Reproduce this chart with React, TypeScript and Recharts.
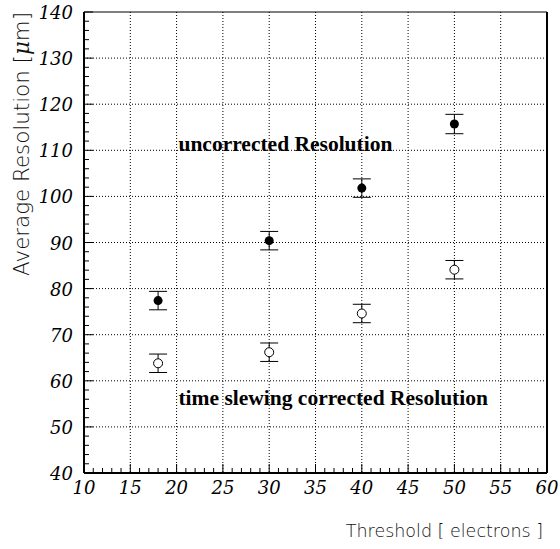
import React from "react";
import {
  ScatterChart,
  Scatter,
  XAxis,
  YAxis,
  CartesianGrid,
  ErrorBar,
  ReferenceLine,
  ReferenceDot,
  Label,
} from "recharts";

// thresholds in electrons
const thresholds = [18, 30, 40, 50];
const uncorrected = [77.4, 90.4, 101.8, 115.7];
const uncorrectedErr = [2.0, 2.0, 2.0, 2.1];
const corrected = [63.8, 66.2, 74.6, 84.1];
const correctedErr = [2.0, 2.0, 2.0, 2.0];

const xMajorTicks = [10, 15, 20, 25, 30, 35, 40, 45, 50, 55, 60];
const yMajorTicks = [40, 50, 60, 70, 80, 90, 100, 110, 120, 130, 140];
// minor tick marks: every 1 electron on x, every 2 um on y
const xAllTicks = Array.from({ length: 51 }, (_, i) => 10 + i);
const yAllTicks = Array.from({ length: 51 }, (_, i) => 40 + i * 2);

const uncorrData = thresholds.map((t, i) => ({ x: t, y: uncorrected[i], err: uncorrectedErr[i] }));
const corrData = thresholds.map((t, i) => ({ x: t, y: corrected[i], err: correctedErr[i] }));

const SANS = "'DejaVu Sans', sans-serif";
const TICK_SERIF = "DejaVu Serif";

const renderXTick = (props: any) => {
  const { x, y, payload } = props;
  const major = xMajorTicks.includes(payload.value);
  return (
    <g key={`xt-${payload.value}`}>
      <line x1={x} x2={x} y1={y} y2={y - (major ? 9 : 5)} stroke="#000" strokeWidth={1} />
      {major && (
        <text
          x={x}
          y={y + 21}
          textAnchor="middle"
          fontFamily={TICK_SERIF}
          fontStyle="italic"
          fontSize={18}
          fill="#000"
        >
          {String(payload.value)}
        </text>
      )}
    </g>
  );
};

const renderYTick = (props: any) => {
  const { x, y, payload } = props;
  const major = yMajorTicks.includes(payload.value);
  return (
    <g key={`yt-${payload.value}`}>
      <line x1={x} x2={x + (major ? 9 : 5)} y1={y} y2={y} stroke="#000" strokeWidth={1} />
      {major && (
        <text
          x={x - 11}
          y={y + 7}
          textAnchor="end"
          fontFamily={TICK_SERIF}
          fontStyle="italic"
          fontSize={18}
          fill="#000"
        >
          {String(payload.value)}
        </text>
      )}
    </g>
  );
};

const FilledDot = (props: any) => <circle cx={props.cx} cy={props.cy} r={4.5} fill="#000" />;
const OpenDot = (props: any) => (
  <circle cx={props.cx} cy={props.cy} r={4.5} fill="#fff" stroke="#000" strokeWidth={1} />
);

const Annot = (props: any) => {
  const { viewBox, text } = props;
  return (
    <text x={viewBox.x} y={viewBox.y} fontFamily="Liberation Serif" fontWeight="bold" fontSize={21.5} fill="#000">
      {text}
    </text>
  );
};

const XTitle = (props: any) => {
  const { viewBox } = props;
  return (
    <text
      x={viewBox.x + viewBox.width - 4}
      y={viewBox.y + 64}
      textAnchor="end"
      fontFamily={SANS}
      fontWeight={200}
      fontSize={17.5}
      fill="#111"
    >
      Threshold [ electrons ]
    </text>
  );
};

const YTitle = (props: any) => {
  const { viewBox } = props;
  const cx = viewBox.x + viewBox.width - 55.5;
  const cy = viewBox.y;
  return (
    <text
      x={cx}
      y={cy}
      transform={`rotate(-90 ${cx} ${cy})`}
      textAnchor="end"
      fontFamily={SANS}
      fontWeight={200}
      fontSize={21.4}
      fill="#111"
    >
      Average Resolution [<tspan fontStyle="italic" fontFamily="'DejaVu Serif', serif">μ</tspan>m]
    </text>
  );
};

export default function App() {
  return (
    <div style={{ position: "absolute", left: 0, top: 0, background: "#fff" }}>
      <ScatterChart width={560} height={549} margin={{ top: 12, right: 13, bottom: 16, left: 24 }}>
        <CartesianGrid
          horizontalValues={yMajorTicks.slice(1, -1)}
          verticalValues={xMajorTicks.slice(1, -1)}
          stroke="#000"
          strokeDasharray="1 2"
        />
        <XAxis
          type="number"
          dataKey="x"
          domain={[10, 60]}
          ticks={xAllTicks}
          interval={0}
          height={60}
          tickSize={0}
          tickMargin={0}
          tickLine={false}
          tick={renderXTick}
          axisLine={{ stroke: "#000", strokeWidth: 2 }}
        >
          <Label content={<XTitle />} />
        </XAxis>
        <YAxis
          type="number"
          dataKey="y"
          domain={[40, 140]}
          ticks={yAllTicks}
          interval={0}
          width={60}
          tickSize={0}
          tickMargin={0}
          tickLine={false}
          tick={renderYTick}
          axisLine={{ stroke: "#000", strokeWidth: 2 }}
        >
          <Label content={<YTitle />} />
        </YAxis>
        <ReferenceLine y={140} stroke="#000" strokeWidth={1} />
        <ReferenceLine x={60} stroke="#000" strokeWidth={2} />
        <Scatter data={uncorrData} shape={<FilledDot />} isAnimationActive={false}>
          <ErrorBar dataKey="err" direction="y" width={9} stroke="#000" strokeWidth={1} />
        </Scatter>
        <Scatter data={corrData} shape={<OpenDot />} isAnimationActive={false}>
          <ErrorBar dataKey="err" direction="y" width={9} stroke="#000" strokeWidth={1} />
        </Scatter>
        <ReferenceDot x={20.2} y={109.9} r={0} fill="none" stroke="none" label={<Annot text="uncorrected Resolution" />} />
        <ReferenceDot x={20.2} y={54.8} r={0} fill="none" stroke="none" label={<Annot text="time slewing corrected Resolution" />} />
      </ScatterChart>
    </div>
  );
}
